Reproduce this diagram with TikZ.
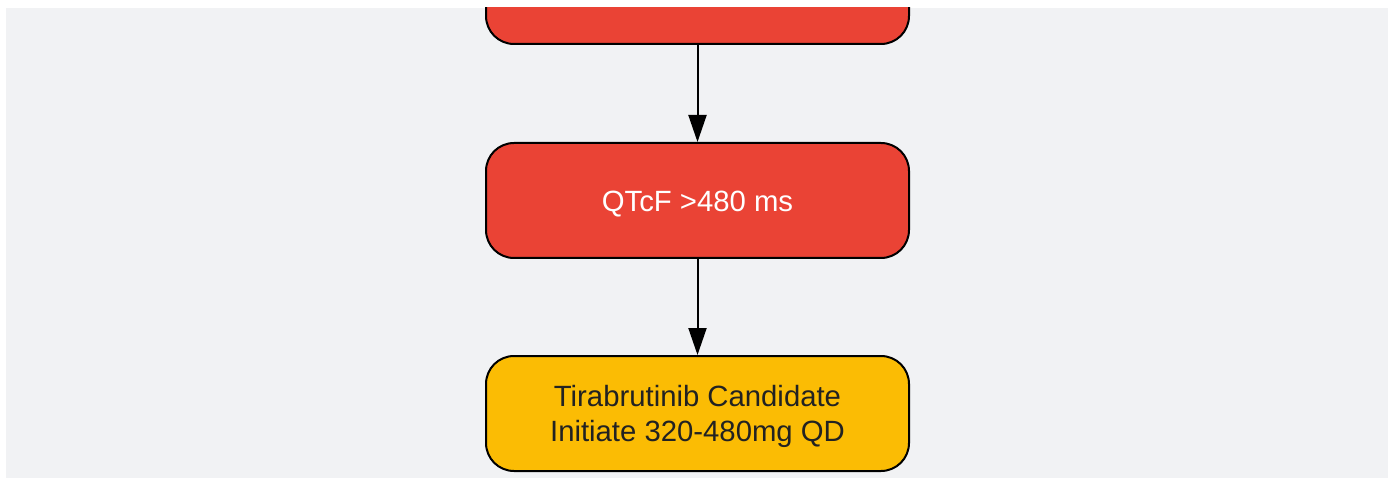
\documentclass[tikz,border=0pt]{standalone}
\usepackage{fontspec}
\setmainfont{Liberation Sans}
\usetikzlibrary{arrows.meta}
\definecolor{bggrey}{HTML}{F1F2F4}
\definecolor{boxred}{HTML}{EA4335}
\definecolor{boxyellow}{HTML}{FBBC04}
\definecolor{darktext}{HTML}{222222}
\begin{document}
\begin{tikzpicture}[x=1pt,y=-1pt,
  flowbox/.style={draw=black, line width=2pt, rounded corners=28pt,
    minimum width=423pt, minimum height=115pt, inner sep=0pt, align=center,
    font=\fontsize{29.3}{35.5}\selectfont},
  redbox/.style={flowbox, fill=boxred, text=white, text height=22pt, text depth=0pt},
  yellowbox/.style={flowbox, fill=boxyellow, text=darktext, text depth=0pt},
  flowarrow/.style={draw=black, line width=2pt, -{Triangle[width=18pt,length=27pt]}}]
\useasboundingbox (0,0) rectangle (1392,478);
\fill[white] (0,0) rectangle (1392,478);
\fill[bggrey] (6,8) rectangle (1388,478);
\begin{scope}
  \clip (6,8) rectangle (1388,478);
  \node[redbox] (top) at (697.5,-13.5) {};
\end{scope}
\node[redbox] (qtc) at (697.5,200.5) {QTcF >480 ms};
\node[yellowbox] (tira) at (697.5,413.5) {Tirabrutinib Candidate\\Initiate 320-480mg QD};
\draw[flowarrow] (top.south) -- (qtc.north);
\draw[flowarrow] (qtc.south) -- (tira.north);
\end{tikzpicture}
\end{document}
